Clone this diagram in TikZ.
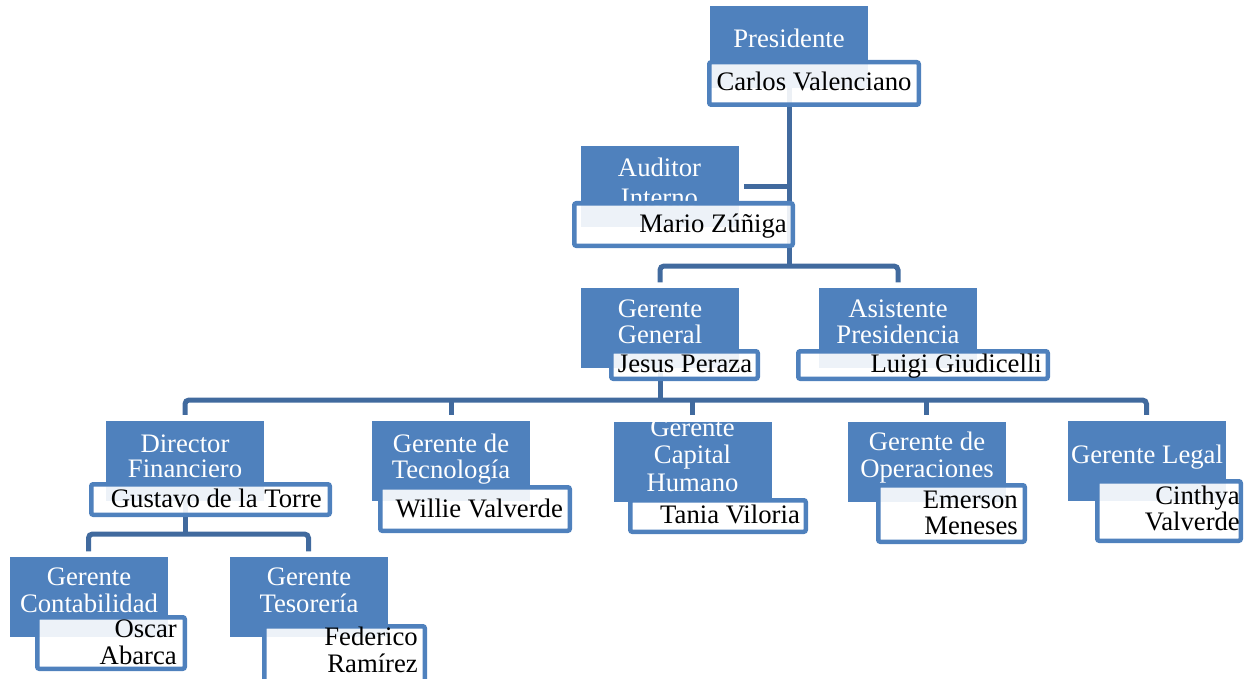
\documentclass[tikz,border=0pt]{standalone}
\usepackage{fontspec}
\setmainfont{Liberation Serif}
\usetikzlibrary{backgrounds}
\definecolor{ocblue}{HTML}{4F81BD}
\definecolor{lnblue}{RGB}{65,106,158}
\newcommand\txtlines[2]{\begin{tabular}[t]{@{}#1@{}}#2\end{tabular}}
\begin{document}
\begin{tikzpicture}[x=1pt,y=-1pt,
  tbox/.style={fill=ocblue, draw=none, minimum width=158pt, minimum height=80pt, inner sep=0pt},
  wbox/.style={draw=ocblue, line width=4.5pt, fill=white, fill opacity=0.9, rounded corners=2pt, inner sep=0pt},
  ttl/.style={text=white, inner sep=0pt, anchor=base, font=\fontsize{26.7}{26.5}\selectfont},
  nm/.style={text=black, inner sep=0pt, font=\fontsize{26.7}{26.5}\selectfont},
  conn/.style={draw=lnblue, line width=5pt, rounded corners=4pt}
]
\useasboundingbox (0,0) rectangle (1244,679);
\clip (0,0) rectangle (1244,679);

% Presidente
\node[tbox, minimum height=82pt] (pres) at (789,47) {};
\node[ttl] (pres-t) at (789,48) {Presidente};
\node[wbox, minimum width=209.5pt, minimum height=42.5pt] (pres-w) at (814,83.5) {};
\node[nm, anchor=base] (pres-n) at (814,91) {Carlos Valenciano};

% Auditor Interno
\node[tbox] (aud) at (659.5,186.5) {};
\node[ttl, font=\fontsize{26.7}{29}\selectfont] (aud-t) at (659.5,177) {\txtlines{c}{Auditor\\Interno}};
\node[wbox, minimum width=218.5pt, minimum height=42.5pt] (aud-w) at (683.5,224.5) {};
\node[nm, anchor=base east] (aud-n) at (787,232) {Mario Zúñiga};

% Gerente General
\node[tbox] (gg) at (660,327.5) {};
\node[ttl] (gg-t) at (660,317) {\txtlines{c}{Gerente\\General}};
\node[wbox, minimum width=146.5pt, minimum height=27.5pt] (gg-w) at (684.5,365) {};
\node[nm, anchor=base] (gg-n) at (685,372) {Jesus Peraza};

% Asistente Presidencia
\node[tbox] (asis) at (898,327.5) {};
\node[ttl] (asis-t) at (898,317) {\txtlines{c}{Asistente\\Presidencia}};
\node[wbox, minimum width=249.5pt, minimum height=27.5pt] (asis-w) at (923,365) {};
\node[nm, anchor=base east] (asis-n) at (1042,372) {Luigi Giudicelli};

% Director Financiero
\node[tbox] (dirf) at (185,461) {};
\node[ttl, font=\fontsize{26.7}{25.5}\selectfont] (dirf-t) at (185,452) {\txtlines{c}{Director\\Financiero}};
\node[wbox, minimum width=238.5pt, minimum height=30.5pt] (dirf-w) at (210.5,499.5) {};
\node[nm, anchor=base east] (dirf-n) at (322,507) {Gustavo de la Torre};

% Gerente de Tecnologia
\node[tbox] (tec) at (451,461) {};
\node[ttl, font=\fontsize{26.7}{25.5}\selectfont] (tec-t) at (451,452) {\txtlines{c}{Gerente de\\Tecnología}};
\node[wbox, minimum width=189.5pt, minimum height=43.5pt] (tec-w) at (475,509) {};
\node[nm, anchor=base east] (tec-n) at (563,517) {Willie Valverde};

% Gerente Capital Humano
\node[tbox] (cap) at (692.5,461.5) {};
\node[ttl, font=\fontsize{26.7}{27.5}\selectfont] (cap-t) at (692.5,436) {\txtlines{c}{Gerente\\Capital\\Humano}};
\node[wbox, minimum width=175.5pt, minimum height=31.5pt] (cap-w) at (718,516) {};
\node[nm, anchor=base east] (cap-n) at (800,523) {Tania Viloria};

% Gerente de Operaciones
\node[tbox] (ope) at (926.5,461.5) {};
\node[ttl, font=\fontsize{26.7}{27}\selectfont] (ope-t) at (927,450) {\txtlines{c}{Gerente de\\Operaciones}};
\node[wbox, minimum width=146.5pt, minimum height=56.5pt] (ope-w) at (951.5,513.5) {};
\node[nm, anchor=base east] (ope-n) at (1018,508) {\txtlines{r}{Emerson\\Meneses}};

% Gerente Legal
\node[tbox] (leg) at (1146.5,461) {};
\node[ttl] (leg-t) at (1147,463) {Gerente Legal};
\node[wbox, minimum width=143.5pt, minimum height=59.5pt] (leg-w) at (1169,511) {};
\node[nm, anchor=base east] (leg-n) at (1240,504) {\txtlines{r}{Cinthya\\Valverde}};

% Gerente Contabilidad
\node[tbox] (cont) at (88.5,596.5) {};
\node[ttl, font=\fontsize{26.7}{27}\selectfont] (cont-t) at (89,585) {\txtlines{c}{Gerente\\Contabilidad}};
\node[wbox, minimum width=147.5pt, minimum height=51.5pt] (cont-w) at (111,643) {};
\node[nm, anchor=base east, font=\fontsize{26.7}{27}\selectfont] (cont-n) at (177,637) {\txtlines{r}{Oscar\\Abarca}};

% Gerente Tesoreria
\node[tbox] (tes) at (308.5,596.5) {};
\node[ttl, font=\fontsize{26.7}{27}\selectfont] (tes-t) at (309,585) {\txtlines{c}{Gerente\\Tesorería}};
\node[wbox, minimum width=160.5pt, minimum height=57.5pt] (tes-w) at (344.5,655) {};
\node[nm, anchor=base east, font=\fontsize{26.7}{27}\selectfont] (tes-n) at (418,645) {\txtlines{r}{Federico\\Ramírez}};

% connectors, under the boxes
\begin{pgfonlayer}{background}
\coordinate (lv1) at (789,266);
\coordinate (lv2) at (660,400);
\coordinate (lv3) at (185,534);
\draw[conn] (pres.south) -- (pres.south |- lv1);
\draw[conn] ([xshift=5.5pt]aud.east) -- (aud.east -| pres.south);
\draw[conn] ([yshift=5pt]gg.north) |- (lv1) -| ([yshift=5pt]asis.north);
\draw[conn] (gg.south) -- (gg.south |- lv2);
\draw[conn] ([yshift=6pt]dirf.north) |- (lv2) -| ([yshift=6pt]leg.north);
\foreach \n in {tec,cap,ope} \draw[conn] (\n.north |- lv2) -- ([yshift=6pt]\n.north);
\draw[conn] (dirf.south) -- (dirf.south |- lv3);
\draw[conn] ([yshift=5pt]cont.north) |- (lv3) -| ([yshift=5pt]tes.north);
\end{pgfonlayer}
\end{tikzpicture}
\end{document}
